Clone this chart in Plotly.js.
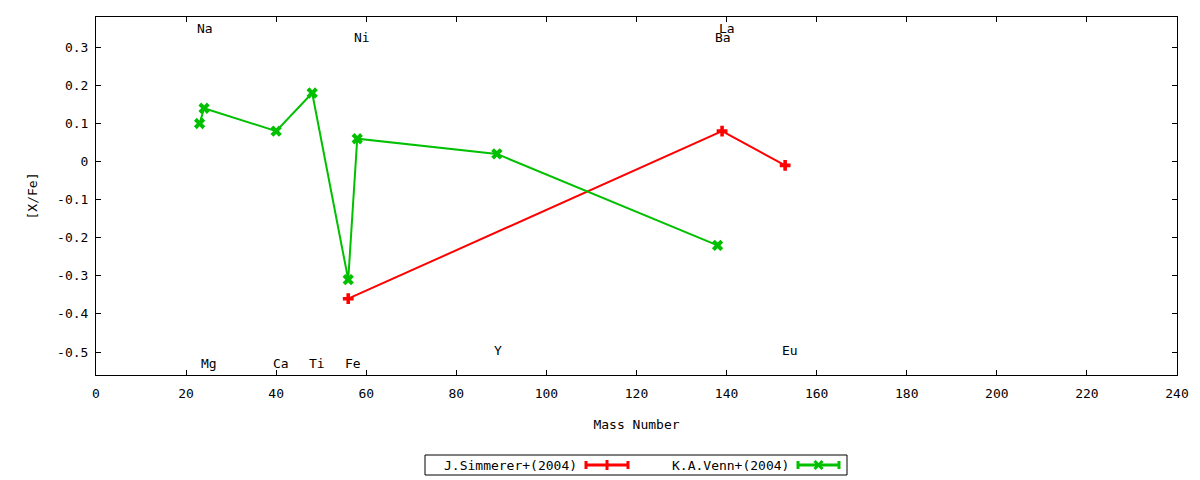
<!DOCTYPE html>
<html>
<head>
<meta charset="utf-8">
<script src="https://cdn.plot.ly/plotly-3.0.1.min.js"></script>
<style>html,body{margin:0;padding:0;background:#fff;}#chart{width:1200px;height:480px;}</style>
</head>
<body>
<div id="chart"></div>
<script>
// Series data
const simMass = [56, 139, 153];
const simVal = [-0.36, 0.08, -0.01];
const vennMass = [23, 24, 40, 48, 56, 58, 89, 138];
const vennVal = [0.10, 0.14, 0.08, 0.18, -0.31, 0.06, 0.02, -0.22];

// Element labels
const elemNames = ["Na", "Mg", "Ca", "Ti", "Fe", "Ni", "Y", "Ba", "La", "Eu"];
const elemMass = [23, 24, 40, 48, 56, 58, 89, 138, 139, 153];
const elemLabelY = [0.35, -0.53, -0.53, -0.53, -0.53, 0.325, -0.495, 0.325, 0.35, -0.495];

// Tick labels
const xTickVals = [0, 20, 40, 60, 80, 100, 120, 140, 160, 180, 200, 220, 240];
const xTickText = ["0", "20", "40", "60", "80", "100", "120", "140", "160", "180", "200", "220", "240"];
const yTickVals = [0.3, 0.2, 0.1, 0, -0.1, -0.2, -0.3, -0.4, -0.5];
const yTickText = ["0.3", "0.2", "0.1", "0", "-0.1", "-0.2", "-0.3", "-0.4", "-0.5"];

const seriesNames = ["J.Simmerer+(2004)", "K.A.Venn+(2004)"];
const RED = "#ff0000", GREEN = "#00c000";
const FONT = "DejaVu Sans Mono";

const traces = [
  {x: simMass, y: simVal, type: "scatter", mode: "lines+markers", name: seriesNames[0],
   line: {color: RED, width: 2}, marker: {symbol: "cross", size: 9, color: RED}, showlegend: false},
  {x: vennMass, y: vennVal, type: "scatter", mode: "lines+markers", name: seriesNames[1],
   line: {color: GREEN, width: 2}, marker: {symbol: "x", size: 10, color: GREEN}, showlegend: false}
];

const annotations = elemNames.map((n, i) => ({
  x: elemMass[i], y: elemLabelY[i], xref: "x", yref: "y", text: n, showarrow: false,
  xanchor: "left", yanchor: "middle", xshift: -5, font: {family: FONT, size: 13, color: "#000"}
}));

// Custom gnuplot-style legend (paper coordinates)
const plotL = 96, plotR = 1177, plotT = 17, plotB = 375;
const px = v => (v - plotL) / (plotR - plotL);
const py = v => (plotB - v) / (plotB - plotT);
const legY = py(465);
annotations.push({x: px(579), y: legY, xref: "paper", yref: "paper", text: seriesNames[0], showarrow: false,
  xanchor: "right", yanchor: "middle", font: {family: FONT, size: 13, color: "#000"}});
annotations.push({x: px(791), y: legY, xref: "paper", yref: "paper", text: seriesNames[1], showarrow: false,
  xanchor: "right", yanchor: "middle", font: {family: FONT, size: 13, color: "#000"}});

const shapes = [
  {type: "rect", xref: "paper", yref: "paper", x0: px(425), x1: px(847), y0: py(475), y1: py(455),
   line: {color: "#000", width: 1}, fillcolor: "rgba(0,0,0,0)"}
];
function legendSample(x0, x1, color, cross) {
  const xm = (x0 + x1) / 2;
  shapes.push({type: "line", xref: "paper", yref: "paper", x0: px(x0), x1: px(x1), y0: legY, y1: legY, line: {color, width: 3}});
  shapes.push({type: "line", xref: "paper", yref: "paper", x0: px(x0), x1: px(x0), y0: py(461), y1: py(469), line: {color, width: 3}});
  shapes.push({type: "line", xref: "paper", yref: "paper", x0: px(x1), x1: px(x1), y0: py(461), y1: py(469), line: {color, width: 3}});
  if (cross) {
    shapes.push({type: "line", xref: "paper", yref: "paper", x0: px(xm), x1: px(xm), y0: py(460), y1: py(470), line: {color, width: 3}});
  } else {
    shapes.push({type: "line", xref: "paper", yref: "paper", x0: px(xm - 4), x1: px(xm + 4), y0: py(461), y1: py(469), line: {color, width: 3}});
    shapes.push({type: "line", xref: "paper", yref: "paper", x0: px(xm - 4), x1: px(xm + 4), y0: py(469), y1: py(461), line: {color, width: 3}});
  }
}
legendSample(586, 628, RED, true);
legendSample(798, 839, GREEN, false);

const axisCommon = {
  showgrid: false, zeroline: false, showline: true, linecolor: "#000", linewidth: 1,
  mirror: "allticks", ticks: "inside", ticklen: 5, tickwidth: 1, tickcolor: "#000",
  tickfont: {family: FONT, size: 13, color: "#000"}, tickmode: "array"
};

const layout = {
  width: 1200, height: 480,
  margin: {l: 96, r: 23, t: 17, b: 105},
  paper_bgcolor: "#fff", plot_bgcolor: "#fff",
  font: {family: FONT, size: 13, color: "#000"},
  showlegend: false,
  xaxis: Object.assign({}, axisCommon, {
    range: [0, 240], tickvals: xTickVals, ticktext: xTickText, ticklabelstandoff: 6,
    title: {text: "Mass Number", font: {family: FONT, size: 13, color: "#000"}, standoff: 20}
  }),
  yaxis: Object.assign({}, axisCommon, {
    range: [-0.5604, 0.3796], tickvals: yTickVals, ticktext: yTickText, ticklabelstandoff: 4,
    title: {text: "[X/Fe]", font: {family: FONT, size: 13, color: "#000"}, standoff: 16}
  }),
  annotations, shapes
};

Plotly.newPlot("chart", traces, layout, {displayModeBar: false, staticPlot: true});
</script>
</body>
</html>
